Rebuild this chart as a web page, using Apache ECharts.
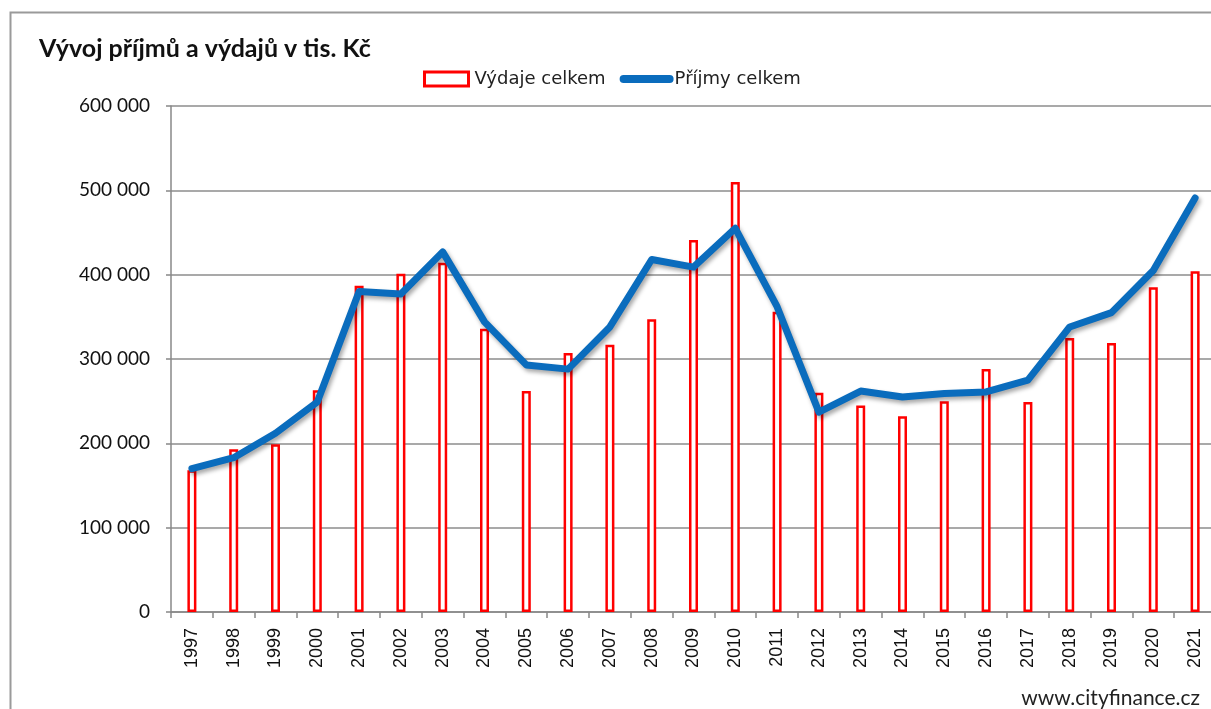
<!DOCTYPE html>
<html>
<head>
<meta charset="utf-8">
<script src="https://cdn.jsdelivr.net/npm/echarts@6/dist/echarts.min.js"></script>
<style>
html, body { margin: 0; padding: 0; background: #fff; overflow: hidden; }
#chart { width: 1216px; height: 709px; }
</style>
</head>
<body>
<div id="chart"></div>
<script>
// roky a hodnoty (tis. Kč)
var years = ['1997','1998','1999','2000','2001','2002','2003','2004','2005','2006','2007','2008','2009',
	'2010','2011','2012','2013','2014','2015','2016','2017','2018','2019','2020','2021'];
var vydaje = [168000,193000,199000,263000,387000,401000,414000,336000,262000,307000,317000,347000,441000,
	510000,356000,260000,245000,232000,250000,288000,249000,325000,319000,385000,404000];
var prijmy = [170000,183000,212000,249000,380000,377000,427000,344000,293000,288000,338000,418000,409000,
	455000,362000,237000,262000,255000,259000,261000,275000,338000,355000,405000,491000];
var yTicks = { min: 0, max: 600000, step: 100000 };

function fmt(v) {
	return String(v).replace(/\B(?=(\d{3})+(?!\d))/g, ' ');
}

// div je o 5 px širší než okno, graf je vpravo oříznutý jako v předloze
var myChart = echarts.init(document.getElementById('chart'));
var option = {
	animation: false,
	title: {
		text: 'Vývoj příjmů a výdajů v tis. Kč',
		left: 34, top: 31,
		textStyle: { fontFamily: 'Lato', fontWeight: 'bold', fontSize: 25, color: '#111' }
	},
	legend: {
		left: 418, top: 65,
		itemWidth: 54, itemHeight: 14, itemGap: 14,
		textStyle: { fontFamily: 'DejaVu Sans', fontSize: 18, color: '#222', padding: [0, 0, 0, -4] },
		data: [
			{ name: 'Výdaje celkem', icon: 'path://M0,0 H44 V14 H0 Z',
				itemStyle: { color: '#fff', borderColor: '#ff0000', borderWidth: 3 } },
			{ name: 'Příjmy celkem', icon: 'path://M4,0 H50 A4,4 0 0 1 50,8 H4 A4,4 0 0 1 4,0 Z',
				itemStyle: { color: '#0a6cbd', borderWidth: 0 } }
		]
	},
	graphic: [
		{ type: 'rect', shape: { x: 10.5, y: 12.5, width: 1400, height: 900 },
			style: { fill: 'none', stroke: '#9a9a9a', lineWidth: 2 }, z: 0 },
		{ type: 'text', right: 16, bottom: 0,
			style: { text: 'www.cityfinance.cz', font: '21px Lato', fill: '#222' } }
	],
	grid: { left: 171, top: 106, bottom: 97, right: 0 },
	xAxis: {
		type: 'category',
		data: years,
		axisLine: { lineStyle: { color: '#888', width: 1.5 } },
		axisTick: { show: true, length: 6, lineStyle: { color: '#888', width: 1.5 } },
		axisLabel: { rotate: 90, margin: 16, fontFamily: 'Liberation Sans', fontSize: 18, color: '#111' }
	},
	yAxis: {
		type: 'value',
		min: yTicks.min, max: yTicks.max, interval: yTicks.step,
		axisLine: { show: true, lineStyle: { color: '#888', width: 1.5 } },
		axisTick: { show: true, length: 5, lineStyle: { color: '#888', width: 1.5 } },
		splitLine: { lineStyle: { color: '#8c8c8c', width: 1.5 } },
		axisLabel: { margin: 21, fontFamily: 'Lato', fontSize: 19, color: '#111', formatter: fmt }
	},
	series: [
		{
			name: 'Výdaje celkem',
			type: 'bar',
			data: vydaje,
			barWidth: 9,
			itemStyle: { color: '#fff', borderColor: '#ff0000', borderWidth: 2.5 }
		},
		{
			name: 'Příjmy celkem',
			type: 'line',
			data: prijmy,
			symbol: 'none',
			itemStyle: { color: '#0a6cbd' },
			lineStyle: {
				color: '#0a6cbd', width: 7, cap: 'round', join: 'round',
				shadowColor: 'rgba(0,0,0,0.35)', shadowBlur: 4, shadowOffsetX: 2, shadowOffsetY: 3
			}
		}
	]
};
myChart.setOption(option);
</script>
</body>
</html>
